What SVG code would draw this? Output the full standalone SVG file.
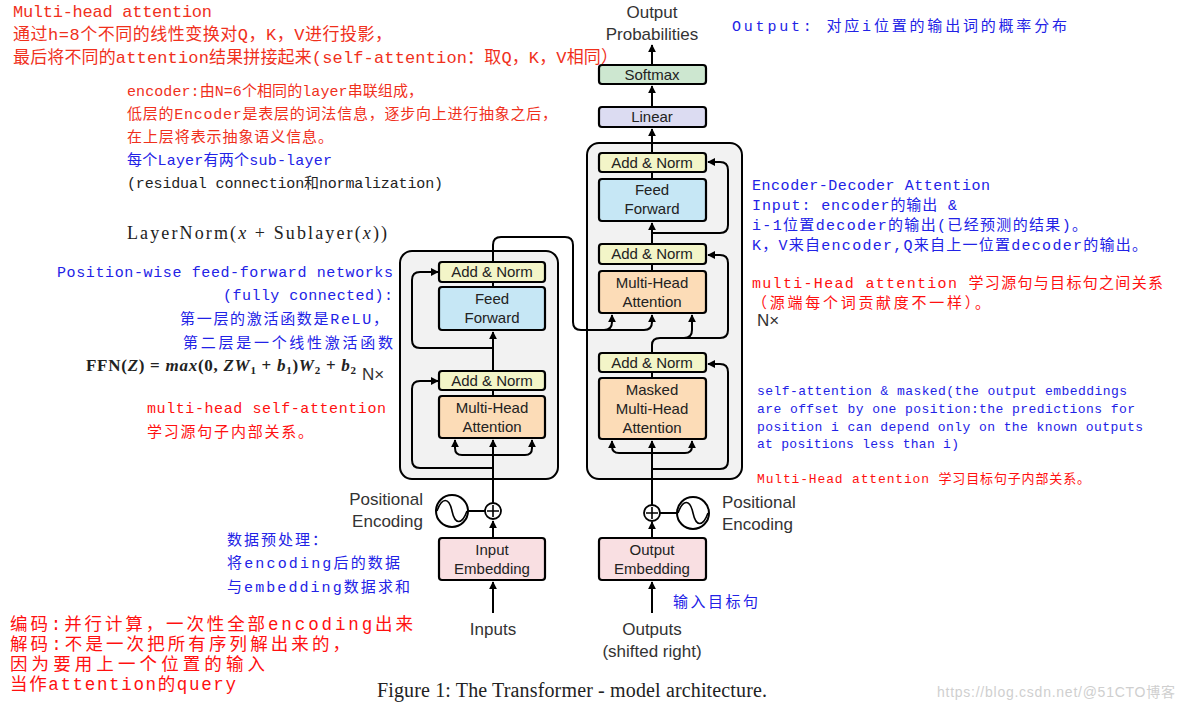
<svg xmlns="http://www.w3.org/2000/svg" width="1184" height="704" viewBox="0 0 1184 704">
<defs>
<marker id="ah" viewBox="0 0 10 10" refX="9" refY="5" markerWidth="8" markerHeight="8" markerUnits="userSpaceOnUse" orient="auto-start-reverse">
<path d="M0,0 L10,5 L0,10 z" fill="#000"/>
</marker>
<style>
.blk{fill:#f2f2f2;stroke:#000;stroke-width:2}
.box{stroke:#000;stroke-width:2.2}
.an{fill:#f3f5c8}.ff{fill:#c6e7f5}.mha{fill:#fcdcb7}.lin{fill:#dcdcf2}.sm{fill:#cde7d0}.emb{fill:#f9dfe2}
.lbl{font-family:"Liberation Sans","Open Sans",sans-serif;font-size:15px;fill:#222;text-anchor:middle}
.big{font-family:"Liberation Sans","Open Sans",sans-serif;font-size:17px;fill:#333}
.ln{fill:none;stroke:#000;stroke-width:2}
.arr{fill:none;stroke:#000;stroke-width:2;marker-end:url(#ah)}
.arr2{fill:none;stroke:#000;stroke-width:2;marker-start:url(#ah);marker-end:url(#ah)}
.ann{font-family:"Liberation Mono","Noto Sans CJK SC",monospace}
.red{fill:#f0301c}.rd{fill:#ff1010}.blu{fill:#2222e6}.blk2{fill:#222}
.s17{font-size:17px}.s15{font-size:15px}.s13{font-size:13px}.s18{font-size:17.5px}
.serif{font-family:"Liberation Serif","DejaVu Serif",serif;fill:#222}
</style>
</defs>
<rect width="1184" height="704" fill="#fff"/>

<g id="encoder-block"><rect class="blk" x="400" y="251" width="158" height="228" rx="12"/></g>
<g id="decoder-block"><rect class="blk" x="587" y="143" width="155" height="336" rx="12"/></g>

<g id="connectors">
<path class="arr" d="M493 613 V582"/>
<path class="arr" d="M493 538 V521"/>
<path class="ln" d="M468 511 H485"/>
<path class="arr" d="M493 503 V440"/>
<path class="arr2" d="M455 440 V448 Q455 455 462 455 H525 Q532 455 532 448 V440"/>
<path class="arr" d="M493 468 H420 Q412 468 412 460 V389 Q412 381 420 381 H438"/>
<path class="ln" d="M493 396 V390"/>
<path class="arr" d="M493 371 V332"/>
<path class="arr" d="M493 348 H420 Q412 348 412 340 V280 Q412 272 420 272 H438"/>
<path class="ln" d="M493 287 V282"/>
<path class="ln" d="M493 262 V245 Q493 237 501 237 H565 Q573 237 573 245 V322 Q573 330 581 330 H644 Q652 330 652 322 V318"/>
<path class="arr" d="M604 330 Q612 330 612 322 V315"/>
<path class="arr" d="M652 322 V315"/>
<path class="arr" d="M652 613 V582"/>
<path class="arr" d="M652 538 V522"/>
<path class="ln" d="M660 513 H677"/>
<path class="arr" d="M652 505 V441"/>
<path class="arr2" d="M612 441 V446 Q612 453 619 453 H685 Q692 453 692 446 V441"/>
<path class="arr" d="M652 469 H720 Q728 469 728 461 V372 Q728 364 720 364 H708"/>
<path class="ln" d="M652 378 V372"/>
<path class="arr" d="M652 353 V345 Q652 338 660 338 H684 Q692 338 692 330 V315"/>
<path class="arr" d="M684 338 H720 Q728 338 728 330 V263 Q728 255 720 255 H708"/>
<path class="ln" d="M652 271 V264"/>
<path class="arr" d="M652 244 V223"/>
<path class="arr" d="M652 233 H720 Q728 233 728 225 V170 Q728 162 720 162 H708"/>
<path class="ln" d="M652 179 V172"/>
<path class="arr" d="M652 153 V129"/>
<path class="arr" d="M652 107 V86"/>
<path class="arr" d="M652 65 V45"/>
</g>

<g id="enc-addnorm2"><rect class="box an" x="439" y="262" width="106" height="20" rx="3"/><text class="lbl" x="492" y="277">Add &amp; Norm</text></g>
<g id="enc-ff"><rect class="box ff" x="439" y="287" width="106" height="43" rx="3"/><text class="lbl" x="492" y="304">Feed</text><text class="lbl" x="492" y="323">Forward</text></g>
<g id="enc-addnorm1"><rect class="box an" x="439" y="371" width="106" height="19" rx="3"/><text class="lbl" x="492" y="386">Add &amp; Norm</text></g>
<g id="enc-mha"><rect class="box mha" x="439" y="396" width="106" height="42" rx="3"/><text class="lbl" x="492" y="413">Multi-Head</text><text class="lbl" x="492" y="432">Attention</text></g>
<g id="input-embedding"><rect class="box emb" x="439" y="538" width="106" height="42" rx="3"/><text class="lbl" x="492" y="555">Input</text><text class="lbl" x="492" y="574">Embedding</text></g>
<g id="enc-plus"><circle cx="493" cy="511" r="8" fill="#fff" stroke="#000" stroke-width="1.8"/><path class="ln" style="stroke-width:1.6" d="M487 511 H499 M493 505 V517"/></g>
<g id="enc-posenc"><circle cx="452" cy="511" r="16" fill="#fff" stroke="#000" stroke-width="2"/><path class="ln" style="stroke-width:1.6" d="M437 511 C442 497 449 497 452 511 C455 525 462 525 467 511"/>
<text class="big" x="423" y="505" text-anchor="end">Positional</text><text class="big" x="423" y="527" text-anchor="end">Encoding</text></g>
<g id="inputs"><text class="big" x="493" y="635" text-anchor="middle">Inputs</text></g>
<g id="enc-nx"><text class="big" x="362" y="380">N×</text></g>

<g id="softmax"><rect class="box sm" x="599" y="65" width="107" height="19" rx="3"/><text class="lbl" x="652" y="80">Softmax</text></g>
<g id="linear"><rect class="box lin" x="599" y="107" width="107" height="20" rx="3"/><text class="lbl" x="652" y="122">Linear</text></g>
<g id="dec-addnorm3"><rect class="box an" x="599" y="153" width="107" height="19" rx="3"/><text class="lbl" x="652" y="168">Add &amp; Norm</text></g>
<g id="dec-ff"><rect class="box ff" x="599" y="179" width="107" height="42" rx="3"/><text class="lbl" x="652" y="195">Feed</text><text class="lbl" x="652" y="214">Forward</text></g>
<g id="dec-addnorm2"><rect class="box an" x="599" y="244" width="107" height="20" rx="3"/><text class="lbl" x="652" y="259">Add &amp; Norm</text></g>
<g id="dec-mha"><rect class="box mha" x="599" y="271" width="107" height="42" rx="3"/><text class="lbl" x="652" y="288">Multi-Head</text><text class="lbl" x="652" y="307">Attention</text></g>
<g id="dec-addnorm1"><rect class="box an" x="599" y="353" width="107" height="19" rx="3"/><text class="lbl" x="652" y="368">Add &amp; Norm</text></g>
<g id="dec-masked-mha"><rect class="box mha" x="599" y="378" width="107" height="61" rx="3"/><text class="lbl" x="652" y="395">Masked</text><text class="lbl" x="652" y="414">Multi-Head</text><text class="lbl" x="652" y="433">Attention</text></g>
<g id="output-embedding"><rect class="box emb" x="599" y="538" width="107" height="42" rx="3"/><text class="lbl" x="652" y="555">Output</text><text class="lbl" x="652" y="574">Embedding</text></g>
<g id="dec-plus"><circle cx="652" cy="513" r="8" fill="#fff" stroke="#000" stroke-width="1.8"/><path class="ln" style="stroke-width:1.6" d="M646 513 H658 M652 507 V519"/></g>
<g id="dec-posenc"><circle cx="693" cy="513" r="16" fill="#fff" stroke="#000" stroke-width="2"/><path class="ln" style="stroke-width:1.6" d="M678 513 C683 499 690 499 693 513 C696 527 703 527 708 513"/>
<text class="big" x="722" y="508">Positional</text><text class="big" x="722" y="530">Encoding</text></g>
<g id="outputs"><text class="big" x="652" y="635" text-anchor="middle">Outputs</text><text class="big" x="652" y="657" text-anchor="middle">(shifted right)</text></g>
<g id="output-probabilities"><text class="big" x="652" y="18" text-anchor="middle">Output</text><text class="big" x="652" y="40" text-anchor="middle">Probabilities</text></g>
<g id="dec-nx"><text class="big" x="757" y="326">N×</text></g>

<g id="annotations">
<text class="ann red s17" x="13" y="17" textLength="199">Multi-head attention</text>
<text class="ann red s17" x="13" y="40" textLength="379">通过h=8个不同的线性变换对Q，K，V进行投影，</text>
<text class="ann red s17" x="13" y="63" textLength="605">最后将不同的attention结果拼接起来(self-attention：取Q，K，V相同）</text>

<text class="ann red s15" x="127" y="96" textLength="296">encoder:由N=6个相同的layer串联组成，</text>
<text class="ann red s15" x="127" y="119" textLength="430">低层的Encoder是表层的词法信息，逐步向上进行抽象之后，</text>
<text class="ann red s15" x="127" y="142" textLength="206">在上层将表示抽象语义信息。</text>
<text class="ann blu s15" x="127" y="165" textLength="205">每个Layer有两个sub-layer</text>
<text class="ann blk2 s15" x="127" y="188" textLength="316">(residual connection和normalization)</text>

<text class="serif" x="127" y="239" font-size="18" textLength="260">LayerNorm(<tspan font-style="italic">x</tspan> + Sublayer(<tspan font-style="italic">x</tspan>))</text>

<text class="ann blu s15" x="57" y="277" textLength="336">Position-wise feed-forward networks</text>
<text class="ann blu s15" x="223" y="300" textLength="170">(fully connected):</text>
<text class="ann blu s15" x="180" y="324" textLength="208">第一层的激活函数是ReLU，</text>
<text class="ann blu s15" x="183" y="348" textLength="210">第二层是一个线性激活函数</text>

<text class="serif" x="86" y="371" font-size="17" font-weight="bold" textLength="270">FFN(<tspan font-style="italic">Z</tspan>) = <tspan font-style="italic">max</tspan>(0, <tspan font-style="italic">ZW</tspan><tspan font-size="11" dy="3">1</tspan><tspan dy="-3"> + </tspan><tspan font-style="italic">b</tspan><tspan font-size="11" dy="3">1</tspan><tspan dy="-3">)</tspan><tspan font-style="italic">W</tspan><tspan font-size="11" dy="3">2</tspan><tspan dy="-3"> + </tspan><tspan font-style="italic">b</tspan><tspan font-size="11" dy="3">2</tspan></text>

<text class="ann rd s15" x="147" y="413" textLength="239">multi-head self-attention</text>
<text class="ann rd s15" x="147" y="437" textLength="166">学习源句子内部关系。</text>

<text class="ann blu s15" x="227" y="545" textLength="100">数据预处理：</text>
<text class="ann blu s15" x="227" y="568" textLength="173">将encoding后的数据</text>
<text class="ann blu s15" x="227" y="592" textLength="183">与embedding数据求和</text>

<text class="ann rd s18" x="10" y="630" textLength="403">编码:并行计算，一次性全部encoding出来</text>
<text class="ann rd s18" x="10" y="650" textLength="340">解码:不是一次把所有序列解出来的，</text>
<text class="ann rd s18" x="10" y="670" textLength="255">因为要用上一个位置的输入</text>
<text class="ann rd s18" x="10" y="690" textLength="226">当作attention的query</text>

<text class="ann blu s15" x="673" y="607" textLength="85">输入目标句</text>

<text class="ann blu s15" x="732" y="31" textLength="335">Output: 对应i位置的输出词的概率分布</text>
<text class="ann blu s15" x="752" y="190" textLength="238">Encoder-Decoder Attention</text>
<text class="ann blu s15" x="752" y="210" textLength="205">Input: encoder的输出 &amp;</text>
<text class="ann blu s15" x="752" y="230" textLength="335">i-1位置decoder的输出(已经预测的结果)。</text>
<text class="ann blu s15" x="752" y="250" textLength="395">K，V来自encoder,Q来自上一位置decoder的输出。</text>
<text class="ann rd s15" x="752" y="288" textLength="411">multi-Head attention 学习源句与目标句之间关系</text>
<text class="ann rd s15" x="752" y="308" textLength="238">（源端每个词贡献度不一样）。</text>

<text class="ann blu s13" x="757" y="395" textLength="370">self-attention &amp; masked(the output embeddings</text>
<text class="ann blu s13" x="757" y="413" textLength="378">are offset by one position:the predictions for</text>
<text class="ann blu s13" x="757" y="431" textLength="386">position i can depend only on the known outputs</text>
<text class="ann blu s13" x="757" y="448" textLength="202">at positions less than i)</text>
<text class="ann rd s13" x="757" y="483" textLength="333">Multi-Head attention 学习目标句子内部关系。</text>
</g>

<g id="caption"><text class="serif" x="377" y="697" font-size="20" textLength="390">Figure 1: The Transformer - model architecture.</text></g>
<g id="watermark"><text x="937" y="697" font-family="Liberation Sans, Noto Sans CJK SC, sans-serif" font-size="14" fill="#cfcfcf" textLength="238">https://blog.csdn.net/@51CTO博客</text></g>
</svg>
